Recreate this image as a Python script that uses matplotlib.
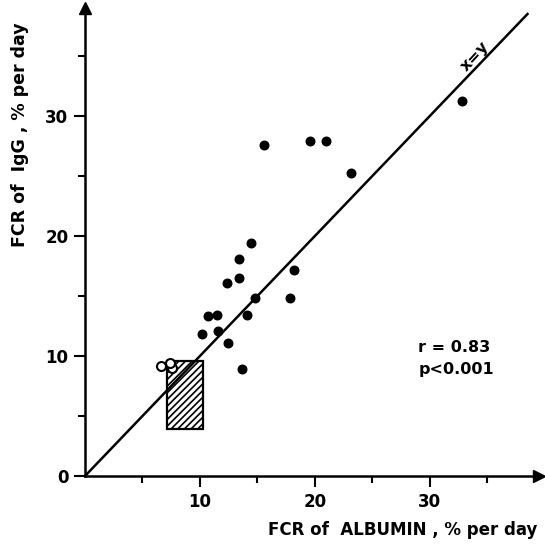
import matplotlib
matplotlib.use("Agg")
import matplotlib.pyplot as plt
from matplotlib.patches import Rectangle

# Data
alb_fcr = [32.8, 15.6, 19.6, 21.0, 23.1, 14.4, 13.4, 13.4, 12.35, 18.2,
           14.8, 17.8, 10.7, 11.5, 14.1, 10.2, 11.6, 12.4, 13.65]
igg_fcr = [31.25, 27.6, 27.9, 27.9, 25.25, 19.4, 18.1, 16.5, 16.1, 17.2,
           14.8, 14.8, 13.3, 13.4, 13.4, 11.8, 12.1, 11.1, 8.9]
open_alb = [6.6, 7.6, 7.4]
open_igg = [9.2, 9.0, 9.45]
normal_range_x = [7.1, 10.3]
normal_range_y = [3.9, 9.6]
x_major = [10, 20, 30]
x_minor = [5, 15, 25, 35]
y_major = [0, 10, 20, 30]
y_minor = [5, 15, 25, 35]
identity_end = 38.5

plt.rcParams['font.family'] = ['DejaVu Sans']
plt.rcParams['hatch.linewidth'] = 1.2

fig = plt.figure(figsize=(5.45, 5.46), dpi=100)
ax = fig.add_axes([85/545, 70/546, 454/545, 468/546])
ax.set_xlim(0, 39.5)
ax.set_ylim(0, 39)

for s in ['top', 'right']:
    ax.spines[s].set_visible(False)
for s in ['left', 'bottom']:
    ax.spines[s].set_linewidth(1.8)

# arrows
ax.plot(1, 0, marker='>', color='k', markersize=9, transform=ax.get_yaxis_transform(), clip_on=False)
ax.plot(0, 1, marker='^', color='k', markersize=9, transform=ax.get_xaxis_transform(), clip_on=False)

ax.set_xticks(x_major)
ax.set_xticks(x_minor, minor=True)
ax.set_yticks(y_major)
ax.set_yticks(y_minor, minor=True)
ax.tick_params(axis='both', which='major', length=8, width=1.5, labelsize=12, pad=4)
ax.tick_params(axis='both', which='minor', length=5, width=1.5)
for lab in ax.get_xticklabels() + ax.get_yticklabels():
    lab.set_fontweight('bold')

# normal range box
ax.add_patch(Rectangle((normal_range_x[0], normal_range_y[0]),
                       normal_range_x[1] - normal_range_x[0],
                       normal_range_y[1] - normal_range_y[0],
                       facecolor='white', edgecolor='k', lw=1.6, hatch='/////', zorder=3))

# identity line
ax.plot([0, identity_end], [0, identity_end], color='k', lw=1.8, clip_on=False, zorder=4)

ax.scatter(alb_fcr, igg_fcr, s=38, color='k', zorder=5)
ax.scatter(open_alb, open_igg, s=42, facecolor='white', edgecolor='k', linewidth=1.5, zorder=6)

ax.text(29.0, 10.75, 'r = 0.83', fontsize=11.5, fontweight='bold', ha='left', va='center')
ax.text(29.0, 8.9, 'p<0.001', fontsize=11.5, fontweight='bold', ha='left', va='center')
ax.text(33.9, 35.0, 'x=y', fontsize=11.5, fontweight='bold', rotation=47, ha='center', va='center')

fig.text(537/545, 1 - 530/546, 'FCR of  ALBUMIN , % per day', fontsize=12, fontweight='bold',
         ha='right', va='center')
fig.text(20/545, 1 - 135/546, 'FCR of  IgG , % per day', fontsize=12.5, fontweight='bold',
         rotation=90, ha='center', va='center')

fig.savefig('out.png', dpi=100)
